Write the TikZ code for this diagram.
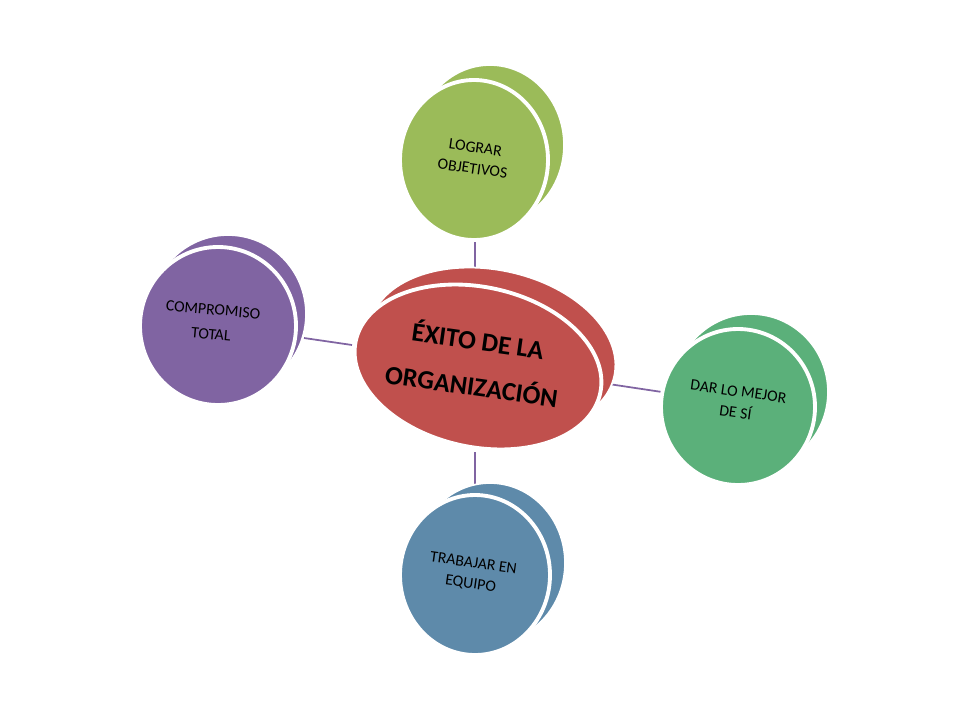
\documentclass[tikz,border=0pt]{standalone}
\usepackage{fontspec}
\setmainfont{Carlito}
\begin{document}
\begin{tikzpicture}[x=0.02cm,y=-0.02cm,
 front/.style={draw=white,line width=2.2pt},
 back/.style={draw=white,line width=1pt},
 conn/.style={line width=1pt,color={rgb,255:red,128;green,100;blue,162}},
 lbl/.style={align=center,font=\fontsize{9}{12}\selectfont,text=black}]
\useasboundingbox (0,0) rectangle (960,720);
\definecolor{cG}{HTML}{9BBB59}\definecolor{cR}{HTML}{C0504D}
\definecolor{cP}{HTML}{8064A2}\definecolor{cT}{HTML}{5BB07A}\definecolor{cB}{HTML}{5E8AAA}
% connectors
\coordinate (t1) at (475,238); \coordinate (t2) at (475,272);
\coordinate (p1) at (304,338); \coordinate (p2) at (352,345);
\coordinate (r1) at (602,383); \coordinate (r2) at (662,392);
\coordinate (b1) at (475,452); \coordinate (b2) at (475,486);
\draw[conn] (t1)--(t2); \draw[conn] (p1)--(p2); \draw[conn] (r1)--(r2); \draw[conn] (b1)--(b2);
% top
\draw[back,fill=cG] (490,145) ellipse [x radius=74,y radius=80];
\draw[front,fill=cG] (474,160) ellipse [x radius=74,y radius=80];
\node[lbl,rotate=-8] (tl) at (474,158) {LOGRAR\\OBJETIVOS};
% purple
\draw[back,fill=cP] (228,314) ellipse [x radius=78,y radius=79];
\draw[front,fill=cP] (218,326) ellipse [x radius=78,y radius=79];
\node[lbl,rotate=-5] (pl) at (212,322) {COMPROMISO\\[2pt]TOTAL};
% right
\draw[back,fill=cT] (751,392) ellipse [x radius=77,y radius=78];
\draw[front,fill=cT] (738,407) ellipse [x radius=77,y radius=78];
\node[lbl,rotate=-8] (rl) at (737,402) {DAR LO MEJOR\\DE SÍ};
% bottom
\draw[back,fill=cB] (490,563) ellipse [x radius=75,y radius=80];
\draw[front,fill=cB] (475,575) ellipse [x radius=75,y radius=80];
\node[lbl,rotate=-8] (bl) at (472,574) {TRABAJAR EN\\EQUIPO};
% center
\draw[back,fill=cR,rotate around={-12:(492,350)}] (492,350) ellipse [x radius=125,y radius=80];
\draw[front,fill=cR,rotate around={-12:(478,367)}] (478,367) ellipse [x radius=125,y radius=80];
\node[align=center,font=\bfseries\fontsize{15}{26}\selectfont,rotate=-8] (c) at (475,362) {ÉXITO DE LA\\ORGANIZACIÓN};
\end{tikzpicture}
\end{document}
